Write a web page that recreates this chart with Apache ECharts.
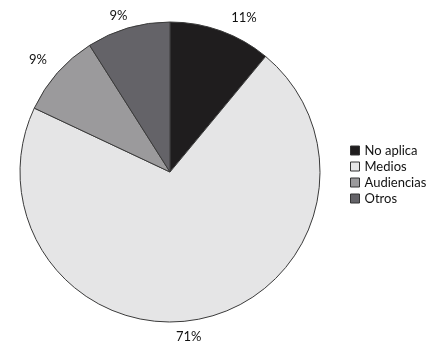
<!DOCTYPE html>
<html><head><meta charset="utf-8">
<script src="https://cdn.jsdelivr.net/npm/echarts@6/dist/echarts.min.js"></script>
<style>html,body{margin:0;padding:0;background:#fff}#c{width:440px;height:352px}</style>
</head><body><div id="c"></div>
<script>
const categories = ["No aplica", "Medios", "Audiencias", "Otros"];
const values = [11, 71, 9, 9];
const colors = ["#1f1d1e", "#e5e5e6", "#9b9a9c", "#646368"];
const labelNudges = [[2, -4], [-34, 9], [2, -6], [7, -3]];
const font = "Lato, sans-serif";
const chart = echarts.init(document.getElementById('c'), null, {renderer: 'canvas'});
chart.setOption({
  animation: false,
  legend: {
    orient: 'vertical', left: 345, top: 139,
    itemWidth: 9, itemHeight: 9, itemGap: 3,
    icon: 'rect',
    itemStyle: {borderColor: '#333', borderWidth: 1},
    textStyle: {fontFamily: font, fontSize: 13, color: '#111', lineHeight: 12},
    data: categories
  },
  series: [{
    type: 'pie',
    center: [170, 172], radius: 150,
    startAngle: 90, clockwise: true,
    itemStyle: {borderColor: '#3a3a3a', borderWidth: 1},
    label: {show: true, position: 'outside', formatter: '{c}%', fontFamily: font, fontSize: 13, color: '#111'},
    labelLine: {show: false, length: 10, length2: 0},
    labelLayout: function (p) { const n = labelNudges[p.dataIndex]; return {dx: n[0], dy: n[1]}; },
    data: categories.map((n, i) => ({name: n, value: values[i], itemStyle: {color: colors[i]}}))
  }]
});
</script></body></html>
